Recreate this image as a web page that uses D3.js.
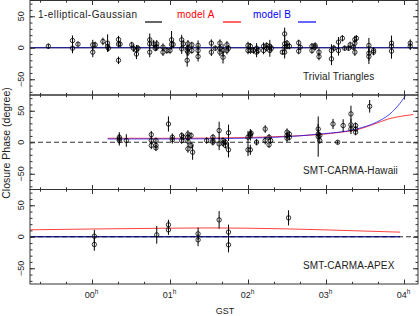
<!DOCTYPE html>
<html>
<head>
<meta charset="utf-8">
<script src="https://cdn.jsdelivr.net/npm/d3@7"></script>
<style>
  body { margin: 0; background: #fff; }
  svg { display: block; font-family: "Liberation Sans", Arial, sans-serif; }
</style>
</head>
<body>
<div id="chart"></div>
<script>
// [GST hours, closure phase (deg), error (deg)]
const trivialPoints = [
  [-0.56, 2.5, 4], [-0.25, 11.5, 8], [-0.25, -0.7, 8], [-0.18, 5.7, 4],
  [0.01, 4.6, 8], [0.01, -7, 8], [0.04, 4.6, 5], [0.14, 10, 6],
  [0.20, 7.3, 14], [0.20, 2.5, 8], [0.21, -0.7, 5],
  [0.34, 13, 6], [0.34, -20, 6], [0.34, 5.7, 5], [0.36, 5.7, 5],
  [0.51, 4.6, 5], [0.53, -0.7, 6], [0.57, -3.5, 8], [0.57, -10, 8], [0.59, -0.7, 5],
  [0.74, 12.6, 10], [0.74, 6.2, 8], [0.74, -7, 8], [0.79, 6.2, 6], [0.81, -0.7, 5],
  [0.83, 6.2, 6], [0.83, 0.9, 6], [0.91, 0.9, 6], [0.91, -7, 6], [0.96, -4.4, 5],
  [1.00, -4.4, 5], [1.02, 12.6, 14], [1.02, 5.2, 8], [1.04, 5.2, 6],
  [1.15, 12.6, 8], [1.15, -1.7, 8], [1.17, 6.2, 6], [1.22, -4.4, 8], [1.22, -20, 10],
  [1.23, 6.2, 6], [1.23, -0.7, 6], [1.23, -7, 6], [1.28, 4.6, 5], [1.28, -4.4, 5],
  [1.36, 3.6, 8], [1.36, -4.4, 8], [1.36, -13.9, 8],
  [1.53, 7.3, 6], [1.53, -7, 6], [1.58, -0.7, 4],
  [1.64, 7.3, 6], [1.64, -0.7, 6], [1.64, -7, 6], [1.68, -4.4, 10], [1.68, -15, 10],
  [1.73, 4.6, 6], [1.73, -4.4, 6], [1.75, -0.7, 5],
  [2.00, 3.6, 6], [2.00, -4.4, 6], [2.03, 2.5, 5], [2.03, -4.4, 5], [2.07, -4.4, 5],
  [2.11, -0.7, 8], [2.11, -7, 8], [2.13, -4.4, 5], [2.20, 2.5, 6], [2.20, -4.4, 6],
  [2.24, 3.6, 5], [2.24, -0.7, 5], [2.28, 2.5, 10], [2.28, -4.4, 10], [2.30, -0.7, 5],
  [2.44, -7, 4], [2.47, 22, 10], [2.47, 6.2, 10], [2.47, 0.9, 10], [2.47, -7, 10],
  [2.50, 7.3, 5], [2.50, 2.5, 5], [2.53, 2.5, 5],
  [2.65, 7.8, 5], [2.65, -5.4, 5], [2.67, 0.9, 4],
  [2.82, 2.5, 5], [2.82, -4.4, 5], [2.86, 3.6, 5], [2.86, 0.9, 5],
  [2.91, -7, 6], [2.91, -13.9, 6], [3.07, -4.4, 10], [3.07, -17.6, 10], [3.10, -0.7, 5],
  [3.16, 9, 8], [3.16, -4.4, 8], [3.21, 15, 5], [3.24, -0.7, 4], [3.29, -0.7, 4],
  [3.31, 4.6, 5], [3.35, 0.9, 4], [3.37, 13, 6], [3.37, 7.3, 6], [3.37, -7, 6], [3.39, 15, 5],
  [3.55, 3.6, 12], [3.55, -8.6, 12], [3.55, -13.9, 12], [3.61, -4.4, 5], [3.61, -7, 5],
  [3.84, 7.3, 12], [3.84, 2.5, 12], [3.84, -5.4, 12], [4.08, 7.3, 6], [4.08, 2.5, 6]
];

const hawaiiPoints = [
  [0.35, 8, 8], [0.35, 5.4, 8], [0.35, 2.7, 8], [0.44, 2.7, 10],
  [0.76, 12, 6], [0.76, 2.7, 6], [0.76, -5, 6], [0.82, 2.7, 5], [0.82, -5, 5], [0.82, -9, 5],
  [0.98, 29, 12], [1.03, 8, 6], [1.03, 4, 6], [1.15, 10.7, 5], [1.15, 2.7, 5], [1.17, 8, 5],
  [1.23, 13, 6], [1.23, 8, 6], [1.23, 1.7, 6], [1.23, -10.5, 6], [1.27, 10.7, 5], [1.27, -5, 5],
  [1.29, -15.8, 12], [1.47, 2.7, 5],
  [1.55, 8, 5], [1.55, 2.7, 5], [1.55, 0, 5], [1.63, 18.6, 14], [1.63, -2.6, 10],
  [1.68, 2.7, 5], [1.68, -1.5, 5], [1.71, 0, 5], [1.71, -5, 5], [1.75, 15, 13], [1.75, -12, 12],
  [2.00, 8, 10], [2.00, -12, 10], [2.03, 13, 8], [2.03, 10.7, 8], [2.03, -12, 8], [2.04, 14.4, 5],
  [2.11, 0, 5], [2.22, 21, 6], [2.22, 2.7, 6], [2.27, 8, 5], [2.27, -4, 5], [2.29, 2.7, 5],
  [2.50, 16, 6], [2.50, 10.7, 6], [2.50, 6.4, 6], [2.53, 13, 5], [2.53, 8, 5],
  [2.90, 21, 8], [2.90, 13, 8], [2.90, 9, 32], [2.92, 10.7, 5], [2.92, 2.7, 5],
  [3.09, 29, 8], [3.15, 0, 3], [3.22, 26.5, 10],
  [3.32, 45, 13], [3.32, 27.6, 10], [3.32, 21, 8], [3.38, 26.5, 5], [3.38, 21, 5], [3.38, 16, 5],
  [3.56, 57, 10]
];

const apexPoints = [
  [0.03, 0.9, 10], [0.03, -12.3, 10], [0.83, 3, 14], [0.98, 19, 8], [0.98, 11, 8],
  [1.36, 4.6, 10], [1.36, -5, 10], [1.63, 26.8, 14], [1.75, 7.3, 12], [1.75, -12.8, 12],
  [2.52, 30, 12]
];

// model curves [GST hours, closure phase (deg)]
const trivialModel = [[-0.8, 0], [4.2, 0]];
const hawaiiModelA = [[0.2, 6.3], [1.0, 6.3], [1.5, 6.6], [2.0, 7.5], [2.5, 9.5], [2.92, 12.3],
  [3.2, 16], [3.4, 20], [3.6, 28], [3.8, 37], [4.0, 42], [4.12, 44]];
const hawaiiModelB = [[0.2, 5.2], [1.0, 5.2], [1.5, 5.5], [2.0, 6.5], [2.37, 8], [2.92, 13],
  [3.39, 21], [3.65, 32], [3.82, 45], [3.95, 62], [4.05, 80]];
const apexModelA = [[-0.8, 11], [0, 12.3], [1.0, 13.6], [1.5, 14], [2.5, 12.5], [3.5, 9], [3.95, 7.3]];
const apexModelB = [[-0.8, 0], [3.95, 0]];

const panelNames = ["Trivial Triangles", "SMT-CARMA-Hawaii", "SMT-CARMA-APEX"];
const hourTicks = [0, 1, 2, 3, 4];
const hourLabels = ["00", "01", "02", "03", "04"];
const phaseTicks = [-50, 0, 50];
const legendNames = ["1-elliptical-Gaussian", "model A", "model B"];
const legendColors = ["#000000", "#ff0000", "#0000ff"];

const width = 420;
const height = 316;
const left = 30, right = 418;
const top0 = 0.5, panelH = 94.5;

const svg = d3.select("#chart")
  .append("svg")
  .attr("width", width)
  .attr("height", height);

const x = d3.scaleLinear().domain([-62 / 78, 326 / 78]).range([left, right]);
const minorHours = d3.range(-2, 13).map((i) => i / 3);
const minorPhase = d3.range(-70, 71, 10);

const line = d3.line()
  .x((d) => x(d[0]))
  .curve(d3.curveMonotoneX);

function drawPanel(i, points, models, dashedZero) {
  const y0 = top0 + i * panelH;
  const y = d3.scaleLinear().domain([-75, 75]).range([y0 + panelH, y0]);
  const g = svg.append("g");

  g.append("clipPath")
    .attr("id", `clip${i}`)
    .append("rect")
    .attr("x", left).attr("y", y0)
    .attr("width", right - left).attr("height", panelH);

  const plot = g.append("g").attr("clip-path", `url(#clip${i})`);

  if (dashedZero) {
    plot.append("line")
      .attr("x1", left).attr("x2", right)
      .attr("y1", y(0)).attr("y2", y(0))
      .attr("stroke", "#333")
      .attr("stroke-width", 1)
      .attr("stroke-dasharray", "5,3");
  }

  models.forEach((m) => {
    line.y((d) => y(d[1]));
    plot.append("path")
      .attr("d", line(m.data))
      .attr("fill", "none")
      .attr("stroke", m.color)
      .attr("stroke-opacity", m.opacity || 1)
      .attr("stroke-width", 1);
  });

  // error bars
  plot.selectAll(".err")
    .data(points)
    .enter()
    .append("line")
    .attr("x1", (d) => x(d[0])).attr("x2", (d) => x(d[0]))
    .attr("y1", (d) => y(d[1] - d[2])).attr("y2", (d) => y(d[1] + d[2]))
    .attr("stroke", "#000")
    .attr("stroke-width", 1);

  plot.selectAll(".pt")
    .data(points)
    .enter()
    .append("circle")
    .attr("cx", (d) => x(d[0]))
    .attr("cy", (d) => y(d[1]))
    .attr("r", 2.2)
    .attr("fill", "none")
    .attr("stroke", "#000")
    .attr("stroke-width", 0.8);

  // frame
  g.append("rect")
    .attr("x", left).attr("y", y0)
    .attr("width", right - left).attr("height", panelH)
    .attr("fill", "none")
    .attr("stroke", "#333")
    .attr("stroke-width", 1);

  // inward ticks on all four sides
  const axes = [
    [d3.axisBottom(x).tickValues(hourTicks).tickSize(-4.5), `translate(0,${y0 + panelH})`],
    [d3.axisBottom(x).tickValues(minorHours).tickSize(-2.2), `translate(0,${y0 + panelH})`],
    [d3.axisTop(x).tickValues(hourTicks).tickSize(-4.5), `translate(0,${y0})`],
    [d3.axisTop(x).tickValues(minorHours).tickSize(-2.2), `translate(0,${y0})`],
    [d3.axisLeft(y).tickValues(phaseTicks).tickSize(-5), `translate(${left},0)`],
    [d3.axisLeft(y).tickValues(minorPhase).tickSize(-2.5), `translate(${left},0)`],
    [d3.axisRight(y).tickValues(phaseTicks).tickSize(-5), `translate(${right},0)`],
    [d3.axisRight(y).tickValues(minorPhase).tickSize(-2.5), `translate(${right},0)`]
  ];
  axes.forEach(([axis, tr]) => {
    const a = g.append("g")
      .attr("transform", tr)
      .call(axis.tickFormat("").tickSizeOuter(0));
    a.select(".domain").remove();
    a.selectAll("line").attr("stroke", "#333");
  });

  // y tick labels, rotated
  phaseTicks.forEach((v) => {
    g.append("text")
      .attr("transform", `translate(24,${y(v)}) rotate(-90)`)
      .attr("text-anchor", "middle")
      .attr("font-size", "9px")
      .attr("fill", "#222")
      .text(d3.format("d")(v));
  });

  g.append("text")
    .attr("x", 303)
    .attr("y", y0 + 79)
    .attr("font-size", "10px")
    .attr("fill", "#222")
    .attr("letter-spacing", "0.1px")
    .text(panelNames[i]);
}

drawPanel(0, trivialPoints, [
  { data: trivialModel, color: "#000000" },
  { data: trivialModel, color: "#0000ff", opacity: 0.55 }
], false);

drawPanel(1, hawaiiPoints, [
  { data: hawaiiModelA, color: "#ff0000", opacity: 0.75 },
  { data: hawaiiModelB, color: "#0000ff", opacity: 0.7 }
], true);

drawPanel(2, apexPoints, [
  { data: apexModelA, color: "#ff0000", opacity: 0.75 },
  { data: apexModelB, color: "#000000" },
  { data: apexModelB, color: "#0000ff", opacity: 0.55 }
], true);

// legend
const legendText = [38, 177, 253];
const legendLine = [[145, 162], [223, 241], [298, 316]];
legendNames.forEach((name, i) => {
  svg.append("text")
    .attr("x", legendText[i])
    .attr("y", 17.5)
    .attr("font-size", "10px")
    .attr("letter-spacing", i === 0 ? "0.45px" : "0.2px")
    .attr("fill", legendColors[i] === "#000000" ? "#222" : legendColors[i])
    .text(name);
  svg.append("line")
    .attr("x1", legendLine[i][0]).attr("x2", legendLine[i][1])
    .attr("y1", 22).attr("y2", 22)
    .attr("stroke", legendColors[i])
    .attr("stroke-width", 1.2);
});

// x tick labels
hourTicks.forEach((h, i) => {
  const t = svg.append("text")
    .attr("x", x(h) - 0.5)
    .attr("y", 298)
    .attr("text-anchor", "middle")
    .attr("font-size", "9px")
    .attr("fill", "#222");
  t.append("tspan").text(hourLabels[i]);
  t.append("tspan")
    .attr("font-size", "6.5px")
    .attr("dy", -4)
    .text("h");
});

svg.append("text")
  .attr("x", 225)
  .attr("y", 314)
  .attr("text-anchor", "middle")
  .attr("font-size", "9px")
  .attr("fill", "#222")
  .text("GST");

svg.append("text")
  .attr("transform", "translate(10,143) rotate(-90)")
  .attr("text-anchor", "middle")
  .attr("font-size", "10.5px")
  .attr("fill", "#222")
  .text("Closure Phase (degree)");
</script>
</body>
</html>
